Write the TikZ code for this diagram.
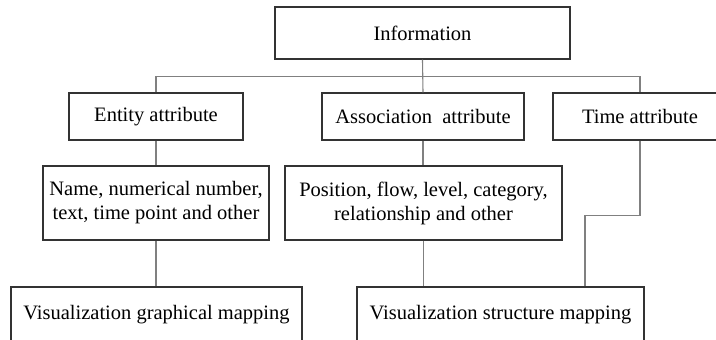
\documentclass[tikz,border=0pt]{standalone}
\usepackage{fontspec}
\setmainfont{Liberation Serif}
\begin{document}
\begin{tikzpicture}[x=1pt,y=-1pt,
  box/.style={draw=black!80, line width=1.3pt, rectangle, inner sep=0pt,
    align=center, font=\fontsize{20.5}{24}\selectfont},
  link/.style={draw=black!50, line width=1.1pt}]
  \useasboundingbox (0,0) rectangle (716,340);
  \begin{scope}
  \clip (0,0) rectangle (716,340);

  % top level
  \node[box, minimum width=295, minimum height=52] (info) at (422.5,33) {Information};

  % attribute level
  \node[box, minimum width=174, minimum height=47] (entity) at (156,116.5) {Entity attribute};
  \node[box, minimum width=202, minimum height=47] (assoc) at (423,116.5) {Association\ \ attribute};
  \node[box, minimum width=174, minimum height=47] (time) at (640,116.5) {Time attribute};

  % detail level
  \node[box, minimum width=226, minimum height=74] (name) at (156,203)
    {Name, numerical number,\\text, time point and other};
  \node[box, minimum width=277, minimum height=74] (pos) at (423.5,203)
    {Position, flow, level, category,\\relationship and other};

  % mapping level
  \node[box, minimum width=291, minimum height=56] (graph) at (156.5,315)
    {Visualization graphical mapping};
  \node[box, minimum width=287, minimum height=56] (struct) at (500.5,315)
    {Visualization structure mapping};

  % connectors
  \draw[link] (info.south) -- (assoc.north);
  \draw[link] (entity.north) -- ++(0,-16) -| (time.north);
  \draw[link] (entity.south) -- (name.north);
  \draw[link] (assoc.south) -- (assoc.south |- pos.north);
  \draw[link] (name.south) -- (name.south |- graph.north);
  \draw[link] (pos.south) -- (pos.south |- struct.north);
  \draw[link] (time.south) -- ++(0,75) -| ([xshift=84.5pt]struct.north);
  \end{scope}
\end{tikzpicture}
\end{document}
